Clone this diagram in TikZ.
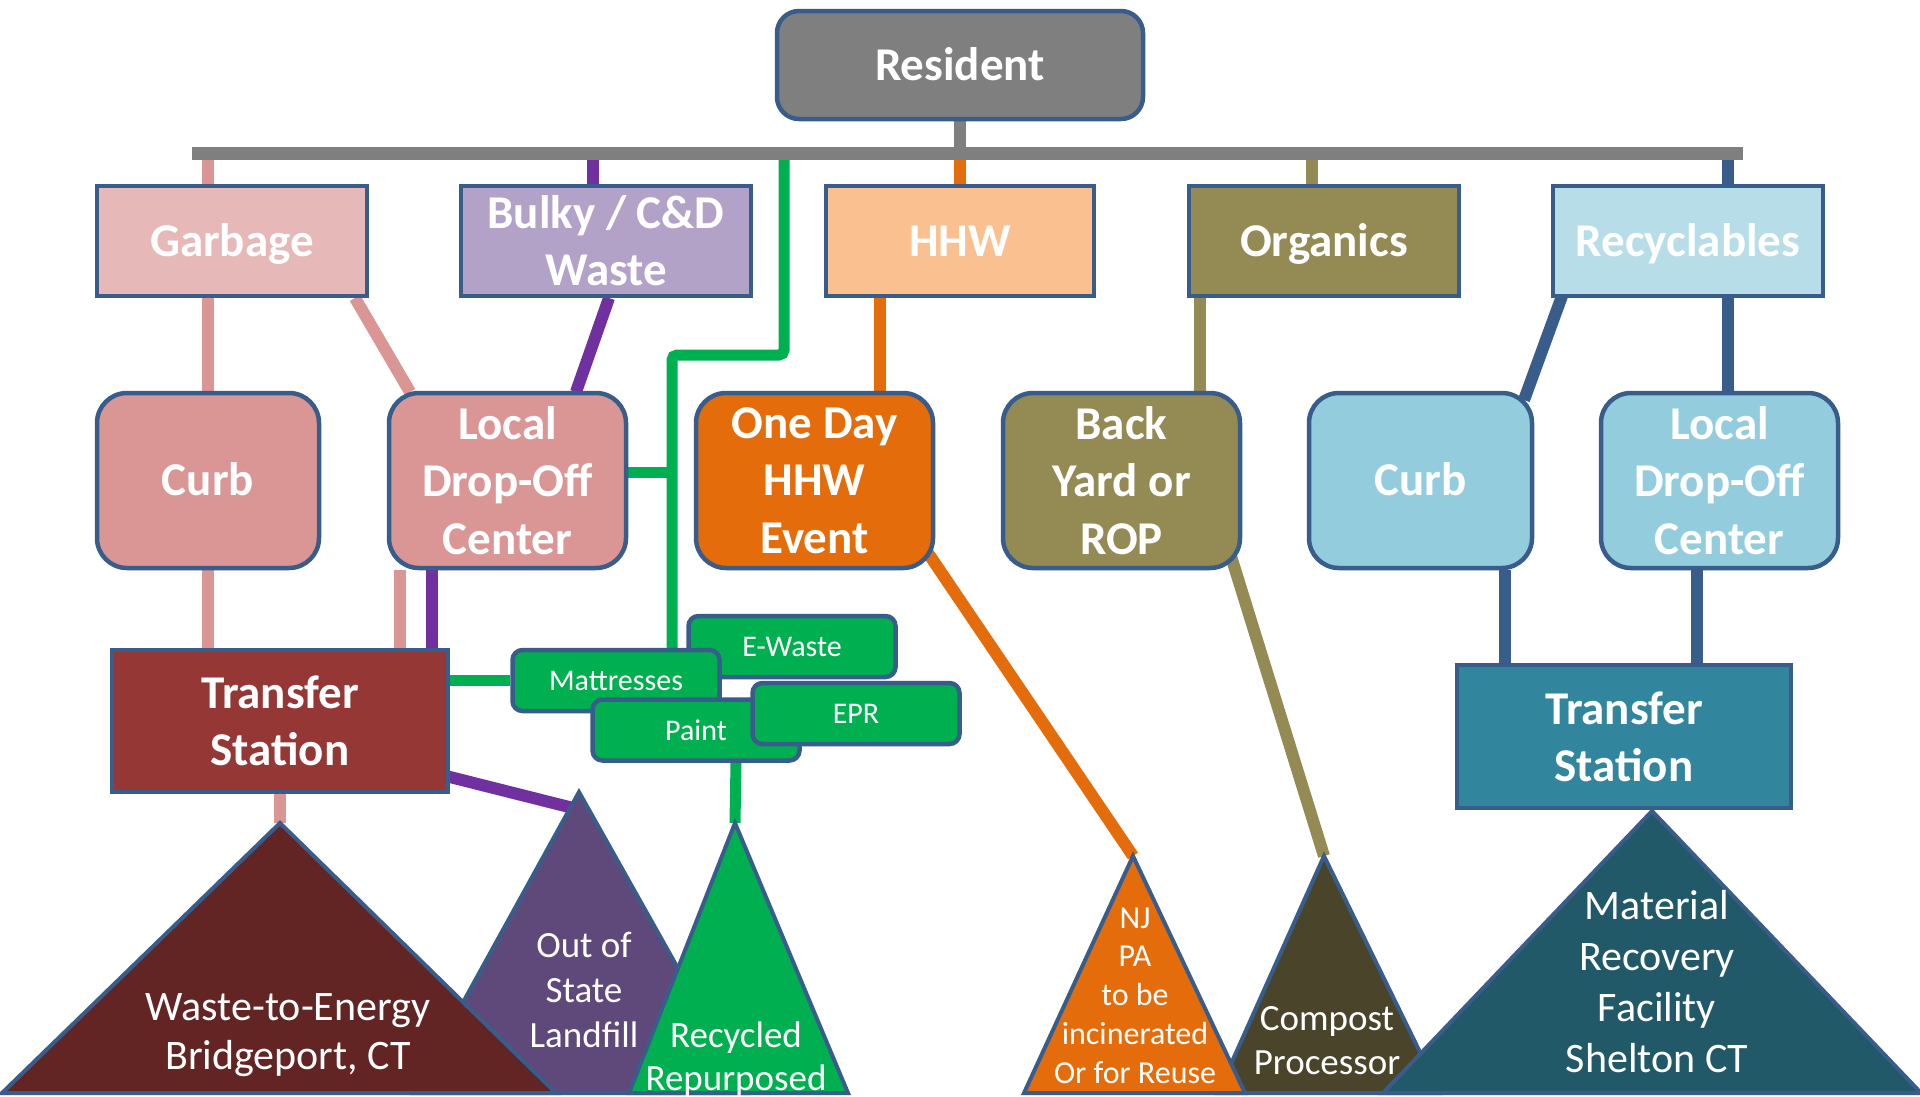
\documentclass[tikz,border=0pt]{standalone}
\usepackage{fontspec}
\setmainfont{Carlito}
\usetikzlibrary{calc}
\definecolor{bord}{HTML}{385D8A}
\definecolor{resgray}{HTML}{7F7F7F}
\definecolor{garbfill}{HTML}{E6B9B8}
\definecolor{pinkfill}{HTML}{D99694}
\definecolor{bulkyfill}{HTML}{B3A2C7}
\definecolor{purp}{HTML}{7030A0}
\definecolor{grn}{HTML}{00B050}
\definecolor{hhwfill}{HTML}{FAC090}
\definecolor{orng}{HTML}{E46C0A}
\definecolor{olive}{HTML}{948A54}
\definecolor{recfill}{HTML}{B7DEE8}
\definecolor{ltblue}{HTML}{93CDDD}
\definecolor{blueline}{HTML}{385D8A}
\definecolor{transL}{HTML}{953735}
\definecolor{wte}{HTML}{632523}
\definecolor{oos}{HTML}{5F497A}
\definecolor{compost}{HTML}{4A452A}
\definecolor{transR}{HTML}{31859C}
\definecolor{mrf}{HTML}{215968}
\pgfdeclarelayer{back}
\pgfdeclarelayer{lines}
\pgfsetlayers{back,lines,main}
\begin{document}
\begin{tikzpicture}[x=1pt,y=-1pt,
  bx/.style={draw=bord, line width=4.5pt, inner sep=0pt, align=center, text=white,
    font=\bfseries\fontsize{47}{57}\selectfont},
  one/.style={text height=30pt, text depth=0pt},
  rbox/.style={bx, rounded corners=30pt, font=\bfseries\fontsize{47}{57.5}\selectfont},
  gbox/.style={draw=bord, line width=4.5pt, fill=grn, rounded corners=10pt, text=white,
    inner sep=0pt, minimum width=207, minimum height=61, font=\fontsize{30}{36}\selectfont},
  tri/.style={draw=bord, line width=4pt},
  tlab/.style={text=white, align=center, inner sep=0pt},
  conn/.style={line width=12pt}]
\begin{pgfonlayer}{back}
\fill[white] (0,0) rectangle (1920,1096);
\end{pgfonlayer}
\useasboundingbox (0,0) rectangle (1920,1096);

% top
\node[bx, one, fill=resgray, rounded corners=22pt, minimum width=366, minimum height=108] (resident) at (960,65) {Resident};
\node[fill=resgray, minimum width=1551, minimum height=13, inner sep=0pt] (bar) at (967.5,153) {};

% row 2
\node[bx, one, fill=garbfill, minimum width=270, minimum height=110] (garbage) at (232,241) {Garbage};
\node[bx, fill=bulkyfill, minimum width=290, minimum height=110] (bulky) at (606,241) {Bulky / C\&D\\Waste};
\node[bx, one, fill=hhwfill, minimum width=268, minimum height=110] (hhw) at (960,241) {HHW};
\node[bx, one, fill=olive, minimum width=270, minimum height=110] (organics) at (1324,241) {Organics};
\node[bx, one, fill=recfill, minimum width=270, minimum height=110] (recyc) at (1688,241) {Recyclables};

% row 3
\node[rbox, one, fill=pinkfill, minimum width=222, minimum height=175] (curbL) at (208,480.5) {Curb};
\node[rbox, fill=pinkfill, minimum width=237, minimum height=175] (dropL) at (507.5,480.5) {Local\\Drop-Off\\Center};
\node[rbox, fill=orng, minimum width=237, minimum height=175] (event) at (814.5,480.5) {One Day\\HHW\\Event};
\node[rbox, fill=olive, minimum width=237, minimum height=175] (backyard) at (1121.5,480.5) {Back\\Yard or\\ROP};
\node[rbox, one, fill=ltblue, minimum width=223, minimum height=175] (curbR) at (1420.5,480.5) {Curb};
\node[rbox, fill=ltblue, minimum width=237, minimum height=175] (dropR) at (1719.5,480.5) {Local\\Drop-Off\\Center};

% transfer stations
\node[bx, fill=transL, minimum width=336, minimum height=142] (transL) at (280,721) {Transfer\\Station};
\node[bx, fill=transR, minimum width=334, minimum height=143] (transR) at (1624,736.5) {Transfer\\Station};

% green boxes
\node[gbox] (ewaste) at (792,646.5) {E-Waste};
\node[gbox] (mattress) at (616,680.5) {Mattresses};
\node[gbox] (paint) at (696,730) {Paint};
\node[gbox] (epr) at (856,713.5) {EPR};

% triangles
\coordinate (oosTop) at (579,792);
\coordinate (wteTop) at (280,823);
\coordinate (recTop) at (735,823);
\coordinate (njTop) at (1133,856);
\coordinate (compTop) at (1324,856);
\coordinate (mrfTop) at (1652,811);
\filldraw[tri, fill=oos] (oosTop) -- (413,1093) -- (748,1093) -- cycle;
\filldraw[tri, fill=wte] (wteTop) -- (2,1093) -- (556,1093) -- cycle;
\filldraw[tri, fill=grn] (recTop) -- (629,1093) -- (848,1093) -- cycle;
\filldraw[tri, fill=compost] (compTop) -- (1218,1093) -- (1440,1093) -- cycle;
\filldraw[tri, fill=orng] (njTop) -- (1024,1093) -- (1245,1093) -- cycle;
\filldraw[tri, fill=mrf] (mrfTop) -- (1383,1093) -- (1921,1093) -- cycle;

\node[tlab, font=\fontsize{42}{49}\selectfont] (wteL) at (288,1035.5) {Waste-to-Energy\\Bridgeport, CT};
\node[tlab, font=\fontsize{37}{45}\selectfont] (oosL) at (584,990) {Out of\\State\\Landfill};
\node[tlab, font=\fontsize{37}{43}\selectfont] (recL) at (736,1059) {Recycled\\Repurposed};
\node[tlab, font=\fontsize{32}{38.7}\selectfont] (njL) at (1135,995.5) {NJ\\PA\\to be\\incinerated\\Or for Reuse};
\node[tlab, font=\fontsize{37}{44}\selectfont] (compL) at (1327,1041) {Compost\\Processor};
\node[tlab, font=\fontsize{42}{51}\selectfont] (mrfL) at (1657,981.5) {Material\\Recovery\\Facility\\Shelton CT};

% connector coordinates
\coordinate (g1) at (784,355);
\coordinate (g2) at (672,355);
\coordinate (gj) at (672,472);
\coordinate (xBulky) at (593,0);
\coordinate (xHHW) at (880,0);
\coordinate (xOrgTop) at (1312,0);
\coordinate (xOrg) at (1200,0);
\coordinate (xRec) at (1728,0);
\coordinate (xPinkL) at (400,0);
\coordinate (xPurpL) at (432,0);
\coordinate (xCurbR) at (1505,0);
\coordinate (xDropR) at (1697,0);
\coordinate (xPaint) at (736,0);

\begin{pgfonlayer}{lines}
\draw[conn, resgray] (resident.south) -- (resident.south |- bar.center);
\draw[conn, pinkfill] (bar.center -| curbL) -- (garbage.north -| curbL);
\draw[conn, purp] (bar.center -| xBulky) -- (garbage.north -| xBulky);
\draw[conn, grn, line width=11pt, rounded corners=5pt] (bar.center -| g1) -- (g1) -- (g2) -- (mattress.north -| g2);
\draw[conn, orng] (bar.center -| hhw) -- (hhw.north);
\draw[conn, olive] (bar.center -| xOrgTop) -- (organics.north -| xOrgTop);
\draw[conn, blueline] (bar.center -| xRec) -- (recyc.north -| xRec);

\draw[conn, pinkfill] (garbage.south -| curbL) -- (curbL.north);
\draw[conn, pinkfill] (355,298) -- (410,392);
\draw[conn, purp] (609,298) -- (576,392);
\draw[conn, orng] (hhw.south -| xHHW) -- (event.north -| xHHW);
\draw[conn, olive] (organics.south -| xOrg) -- (backyard.north -| xOrg);
\draw[conn, blueline] (1562,296) -- (1524,400);
\draw[conn, blueline] (recyc.south -| xRec) -- (dropR.north -| xRec);
\draw[conn, grn, line width=11pt] (gj -| dropL.east) -- (gj);

\draw[conn, pinkfill] (curbL.south) -- (transL.north -| curbL);
\draw[conn, pinkfill] (dropL.south -| xPinkL) -- (transL.north -| xPinkL);
\draw[conn, purp] (dropL.south -| xPurpL) -- (transL.north -| xPurpL);
\draw[conn, grn, line width=11pt] (transL.east |- mattress.west) -- (mattress.west);
\draw[conn, purp] (446,776) -- ($(oosTop)+(2,18)$);
\draw[conn, pinkfill] (transL.south) -- (wteTop);
\draw[conn, grn, line width=11pt] (paint.south -| xPaint) -- (recTop);
\draw[conn, orng] (928,553) -- (njTop);
\draw[conn, olive] (1230,553) -- (compTop);
\draw[conn, blueline] (curbR.south -| xCurbR) -- (transR.north -| xCurbR);
\draw[conn, blueline] (dropR.south -| xDropR) -- (transR.north -| xDropR);
\end{pgfonlayer}
\end{tikzpicture}
\end{document}
